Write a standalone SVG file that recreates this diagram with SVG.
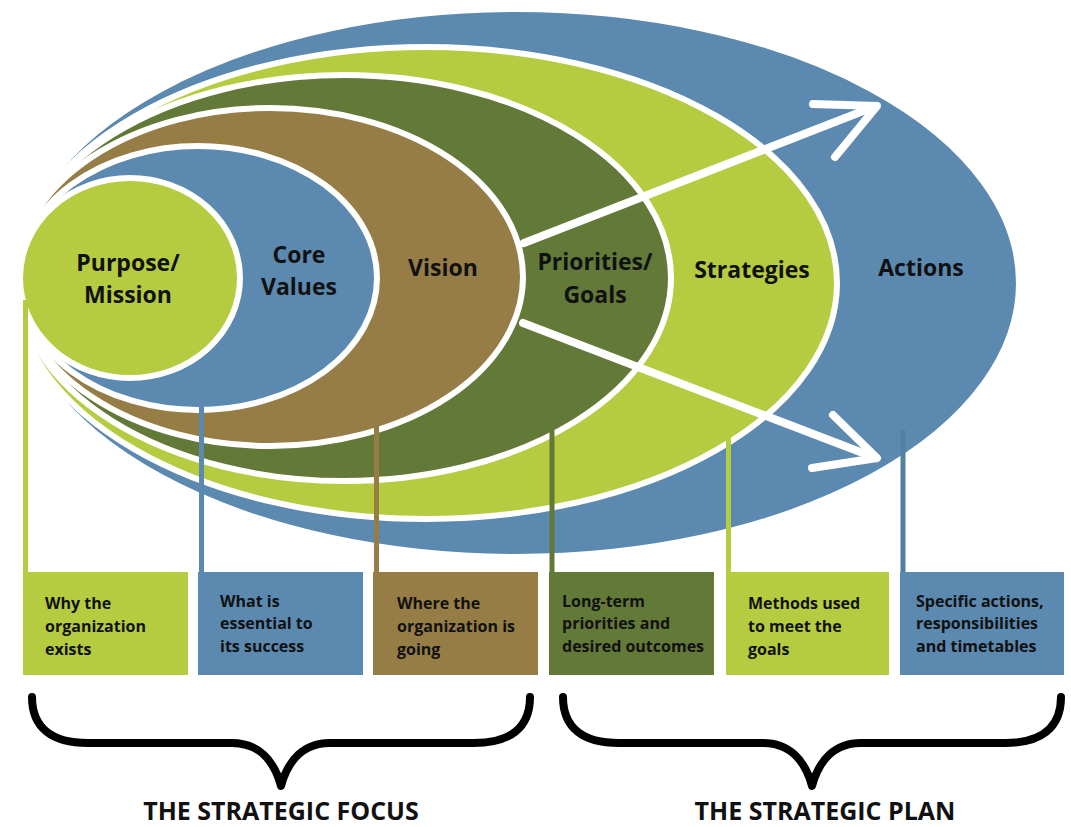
<svg xmlns="http://www.w3.org/2000/svg" width="1071" height="827" viewBox="0 0 1071 827">
<style>
.ring{stroke:#ffffff;stroke-width:6}
.lg{fill:#B5CB40}
.bl{fill:#5B89AF}
.br{fill:#967D46}
.dg{fill:#637938}
.lbl{font-family:"Open Sans","Noto Sans","Liberation Sans",sans-serif;font-weight:700;font-size:23px;fill:#111111;text-anchor:middle}
.bx{font-family:"Open Sans","Noto Sans","Liberation Sans",sans-serif;font-weight:700;font-size:16px;fill:#111111}
.ttl{font-family:"Open Sans","Noto Sans","Liberation Sans",sans-serif;font-weight:700;font-size:25px;fill:#111111;text-anchor:middle}
.vl{stroke-width:5;fill:none}
.arr{stroke:#ffffff;stroke-width:8;fill:none;stroke-linecap:round;stroke-linejoin:round}
.brace{stroke:#000000;stroke-width:8;fill:none;stroke-linecap:round;stroke-linejoin:round}
</style>
<rect width="1071" height="827" fill="#ffffff"/>

<g id="actions">
<ellipse class="ring bl" cx="516" cy="283" rx="503" ry="274"/>
<text class="lbl" x="921" y="276">Actions</text>
</g>
<g id="strategies">
<ellipse class="ring lg" cx="426" cy="283" rx="411" ry="236"/>
<text class="lbl" x="752" y="278">Strategies</text>
</g>
<g id="priorities">
<ellipse class="ring dg" cx="344" cy="278" rx="327" ry="203"/>
<text class="lbl" x="595" y="270">Priorities/</text>
<text class="lbl" x="595" y="303">Goals</text>
</g>
<g id="vision">
<ellipse class="ring br" cx="270" cy="277" rx="253" ry="169"/>
<text class="lbl" x="443" y="276">Vision</text>
</g>
<g id="core-values">
<ellipse class="ring bl" cx="198" cy="278" rx="179" ry="132"/>
<text class="lbl" x="299" y="263">Core</text>
<text class="lbl" x="299" y="295">Values</text>
</g>
<g id="purpose">
<ellipse class="ring lg" cx="130" cy="278" rx="110" ry="100"/>
<text class="lbl" x="128" y="271">Purpose/</text>
<text class="lbl" x="128" y="303">Mission</text>
</g>

<g id="connectors">
<line class="vl" stroke="#B5CB40" x1="25.5" y1="300" x2="25.5" y2="575"/>
<line class="vl" stroke="#5B89AF" x1="201.5" y1="400" x2="201.5" y2="575"/>
<line class="vl" stroke="#967D46" x1="376.5" y1="425" x2="376.5" y2="575"/>
<line class="vl" stroke="#637938" x1="552" y1="430" x2="552" y2="575"/>
<line class="vl" stroke="#B5CB40" x1="728.5" y1="420" x2="728.5" y2="575"/>
<line class="vl" stroke="#54809F" x1="903" y1="430" x2="903" y2="575"/>
<line class="arr" x1="524" y1="243" x2="876" y2="106"/>
<polyline class="arr" points="813,104 877,106 835,157"/>
<line class="arr" x1="523" y1="323" x2="876" y2="458"/>
<polyline class="arr" points="833,415 877,458 812,468"/>
</g>

<g id="box-purpose">
<rect class="lg" x="23" y="572" width="165" height="103"/>
<text class="bx" x="45" y="609">Why the</text>
<text class="bx" x="45" y="632">organization</text>
<text class="bx" x="45" y="655">exists</text>
</g>
<g id="box-core">
<rect class="bl" x="198" y="572" width="165" height="103"/>
<text class="bx" x="220" y="607">What is</text>
<text class="bx" x="220" y="629">essential to</text>
<text class="bx" x="220" y="652">its success</text>
</g>
<g id="box-vision">
<rect class="br" x="373" y="572" width="165" height="103"/>
<text class="bx" x="397" y="609">Where the</text>
<text class="bx" x="397" y="632">organization is</text>
<text class="bx" x="397" y="655">going</text>
</g>
<g id="box-priorities">
<rect class="dg" x="549" y="572" width="165" height="103"/>
<text class="bx" x="562" y="607">Long-term</text>
<text class="bx" x="562" y="629">priorities and</text>
<text class="bx" x="562" y="652">desired outcomes</text>
</g>
<g id="box-strategies">
<rect class="lg" x="726" y="572" width="163" height="103"/>
<text class="bx" x="748" y="609">Methods used</text>
<text class="bx" x="748" y="632">to meet the</text>
<text class="bx" x="748" y="655">goals</text>
</g>
<g id="box-actions">
<rect class="bl" x="900" y="572" width="164" height="103"/>
<text class="bx" x="916" y="607">Specific actions,</text>
<text class="bx" x="916" y="629">responsibilities</text>
<text class="bx" x="916" y="652">and timetables</text>
</g>

<g id="focus">
<path class="brace" d="M32,697 C32,728 52,743 88,743 L232,743 C258,743 274,760 281,786 C288,760 304,743 330,743 L474,743 C510,743 530,728 530,697"/>
<text class="ttl" x="281" y="820">THE STRATEGIC FOCUS</text>
</g>
<g id="plan">
<path class="brace" d="M563,697 C563,728 583,743 619,743 L763,743 C789,743 805,760 812,786 C819,760 835,743 861,743 L1005,743 C1041,743 1061,728 1061,697"/>
<text class="ttl" x="825" y="820">THE STRATEGIC PLAN</text>
</g>
</svg>
